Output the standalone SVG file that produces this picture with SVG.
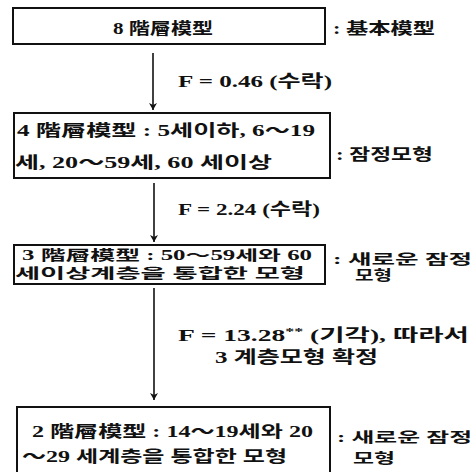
<svg xmlns="http://www.w3.org/2000/svg" width="475" height="472" viewBox="0 0 475 472">
<style>
.box{fill:#fff;stroke:#111;stroke-width:2}
.t{font-family:"Liberation Serif","Noto Sans CJK KR","Noto Sans CJK SC",serif;font-size:16px;font-weight:bold;fill:#111}
.s{font-size:14px}
.lbl{font-family:"Liberation Serif","Noto Sans CJK KR",serif;font-size:17px;font-weight:bold;fill:#111}
.conn{stroke:#111;stroke-width:1.6;fill:none}
</style>
<defs>
<marker id="ah" markerWidth="9" markerHeight="9" refX="7" refY="4" orient="auto" markerUnits="userSpaceOnUse">
<path d="M0,0 L7,4 L0,8 L2,4 Z" fill="#111"/>
</marker>
</defs>
<rect width="475" height="472" fill="#fff"/>
<g id="connectors">
<line class="conn" x1="153" y1="53" x2="153" y2="110" marker-end="url(#ah)"/>
<line class="conn" x1="154" y1="183" x2="154" y2="242" marker-end="url(#ah)"/>
<line class="conn" x1="154" y1="288" x2="154" y2="400" marker-end="url(#ah)"/>
<text class="lbl" x="178" y="87" textLength="154" lengthAdjust="spacingAndGlyphs">F = 0.46 (수락)</text>
<text class="lbl" x="178" y="215" textLength="142" lengthAdjust="spacingAndGlyphs">F = 2.24 (수락)</text>
<text class="lbl" x="178" y="341" textLength="291" lengthAdjust="spacingAndGlyphs">F = 13.28<tspan dy="-6" font-size="11">**</tspan><tspan dy="6"> (기각),  따라서</tspan></text>
<text class="lbl" x="215" y="363" textLength="163" lengthAdjust="spacingAndGlyphs">3 계층모형 확정</text>
</g>
<g id="node1">
<rect class="box" x="13" y="8" width="312" height="36"/>
<text class="t" x="113" y="34" font-size="17" textLength="100" lengthAdjust="spacingAndGlyphs">8 階層模型</text>
<text class="t" x="333" y="34" font-size="17" textLength="102" lengthAdjust="spacingAndGlyphs">: 基本模型</text>
</g>
<g id="node2">
<rect class="box" x="14" y="113" width="316" height="65"/>
<text class="t" x="17" y="136" textLength="298" lengthAdjust="spacingAndGlyphs">4 階層模型 :  5세이하,  6～19</text>
<text class="t" x="15" y="168" textLength="257" lengthAdjust="spacingAndGlyphs">세,  20～59세,  60 세이상</text>
<text class="t" x="336" y="160" textLength="97" lengthAdjust="spacingAndGlyphs">: 잠정모형</text>
</g>
<g id="node3">
<rect class="box" x="14" y="245" width="311" height="39"/>
<text class="t s" x="22" y="260" textLength="290" lengthAdjust="spacingAndGlyphs">3 階層模型 :  50～59세와   60</text>
<text class="t s" x="15" y="278" textLength="290" lengthAdjust="spacingAndGlyphs">세이상계층을 통합한 모형</text>
<text class="t s" x="333" y="264" textLength="139" lengthAdjust="spacingAndGlyphs">: 새로운 잠정</text>
<text class="t s" x="355" y="280" textLength="37" lengthAdjust="spacingAndGlyphs">모형</text>
</g>
<g id="node4">
<rect class="box" x="17" y="407" width="313" height="80"/>
<text class="t" x="32" y="437" textLength="281" lengthAdjust="spacingAndGlyphs">2 階層模型 :  14～19세와   20</text>
<text class="t" x="22" y="462" textLength="265" lengthAdjust="spacingAndGlyphs">～29 세계층을 통합한 모형</text>
<text class="t s" x="337" y="442" textLength="135" lengthAdjust="spacingAndGlyphs">: 새로운 잠정</text>
<text class="t s" x="353" y="463" textLength="42" lengthAdjust="spacingAndGlyphs">모형</text>
</g>
</svg>
